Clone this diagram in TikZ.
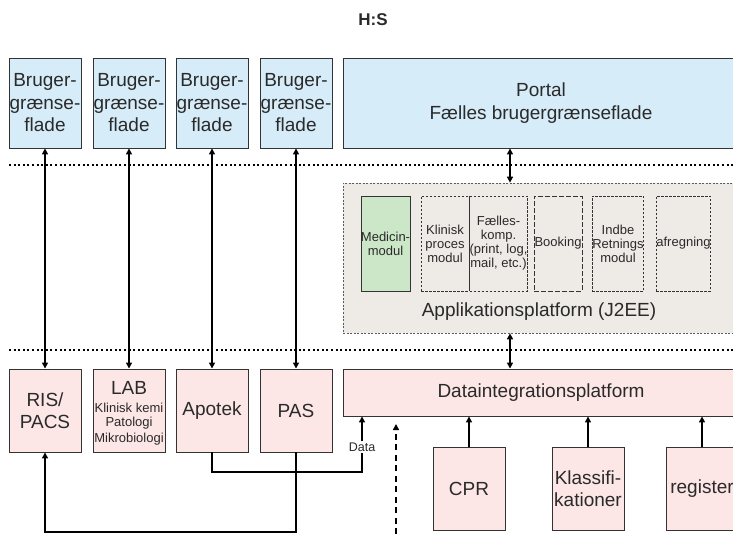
\documentclass[tikz,border=0pt]{standalone}
\usepackage{fontspec}
\setmainfont{Liberation Sans}
\usetikzlibrary{arrows.meta}
\definecolor{bluef}{HTML}{D6ECF8}
\definecolor{pinkf}{HTML}{FCE6E6}
\definecolor{greenf}{HTML}{CCE6C8}
\definecolor{grayf}{HTML}{EEEAE6}
\definecolor{edge}{HTML}{333333}
\definecolor{txt}{HTML}{2A2A2A}
\tikzset{
  big/.style={font=\fontsize{19}{22.5}\selectfont},
  small/.style={font=\fontsize{13}{14}\selectfont},
  lab/.style={font=\fontsize{13}{15.5}\selectfont, text=txt, inner sep=0pt},
  box/.style={draw=edge, line width=0.9pt, inner sep=0pt, align=center, text=txt, big},
  bluebox/.style={box, fill=bluef},
  pinkbox/.style={box, fill=pinkf},
  modbox/.style={draw=edge, line width=0.7pt, dash pattern=on 2.5pt off 1.5pt, inner sep=0pt, align=center, text=txt, small, minimum width=48pt, minimum height=95pt},
  arr/.style={line width=2.2pt, -{Triangle[length=6pt,width=6pt]}},
  darr/.style={line width=2.2pt, {Triangle[length=6pt,width=6pt]}-{Triangle[length=6pt,width=6pt]}},
  sep/.style={line width=2pt, dash pattern=on 2pt off 2.6pt},
}
\begin{document}
\begin{tikzpicture}[x=1pt,y=-1pt]
\useasboundingbox (0,0) rectangle (733,534);
\begin{scope}
\clip (0,0) rectangle (733,534);
% title
\node[font=\fontsize{17}{20}\selectfont\bfseries, text=txt] (hs) at (373,20) {H:S};
% separators
\coordinate (s1a) at (9,165); \coordinate (s1b) at (733,165);
\coordinate (s2a) at (9,350); \coordinate (s2b) at (733,350);
% top boxes
\node[bluebox, minimum width=72pt, minimum height=90pt] (b1) at (45,103) {Bruger-\\grænse-\\flade};
\node[bluebox, minimum width=72pt, minimum height=90pt] (b2) at (129,103) {Bruger-\\grænse-\\flade};
\node[bluebox, minimum width=72pt, minimum height=90pt] (b3) at (212,103) {Bruger-\\grænse-\\flade};
\node[bluebox, minimum width=72pt, minimum height=90pt] (b4) at (296,103) {Bruger-\\grænse-\\flade};
\node[bluebox, minimum width=396pt, minimum height=90pt] (portal) at (541,103) {Portal\\Fælles brugergrænseflade};
% application platform
\node[draw=edge!80, fill=grayf, line width=0.7pt, dash pattern=on 2pt off 1.5pt, minimum width=396pt, minimum height=150pt, inner sep=0pt] (app) at (541,258) {};
\node[big, text=txt] (applbl) at (539,312) {Applikationsplatform (J2EE)};
\node[draw=edge, fill=greenf, line width=0.8pt, inner sep=0pt, align=center, text=txt, small, minimum width=47pt, minimum height=95pt] (m1) at (385.5,243.5) {Medicin-\\modul};
\node[modbox] (m2) at (445,243.5) {Klinisk\\proces\\modul};
\node[modbox] (m3) at (498.5,243.5) {Fælles-\\komp.\\(print, log,\\mail, etc.)};
\node[modbox, dash pattern=on 5pt off 2pt] (m4) at (558,243.5) {Booking};
\node[modbox] (m5) at (618,243.5) {Indbe\\Retnings\\modul};
\node[modbox] (m6) at (683.5,243.5) {afregning};
% lower boxes
\node[pinkbox, minimum width=72pt, minimum height=83pt] (l1) at (45,410.5) {RIS/\\PACS};
\node[pinkbox, minimum width=72pt, minimum height=83pt] (l2) at (129,410.5) {};
\node[big, text=txt, inner sep=0pt] (labt) at (129,388) {LAB};
\node[lab] (lab1) at (129,408) {Klinisk kemi};
\node[lab] (lab2) at (129,423.5) {Patologi};
\node[lab] (lab3) at (129,439) {Mikrobiologi};
\node[pinkbox, minimum width=72pt, minimum height=83pt] (l3) at (212,410.5) {Apotek};
\node[pinkbox, minimum width=72pt, minimum height=83pt] (l4) at (296,410.5) {PAS};
\node[pinkbox, minimum width=396pt, minimum height=47pt] (dip) at (541,392.5) {};
\node[big, text=txt] (diplbl) at (541,393) {Dataintegrationsplatform};
\node[pinkbox, minimum width=72pt, minimum height=83pt] (cpr) at (469,488.5) {CPR};
\node[pinkbox, minimum width=72pt, minimum height=83pt] (kl) at (588,488.5) {Klassifi-\\kationer};
\node[pinkbox, minimum width=72pt, minimum height=83pt] (reg) at (702,488.5) {register};
% separators drawn
\draw[sep] (s1a) -- (s1b);
\draw[sep] (s2a) -- (s2b);
% vertical arrows
\foreach \i in {1,2,3,4} { \draw[darr] (b\i.south) -- (l\i.north); }
\coordinate (ax) at (510,0);
\draw[darr] (portal.south -| ax) -- (app.north -| ax);
\draw[darr] (app.south -| ax) -- (dip.north -| ax);
\draw[arr] (cpr.north) -- (cpr.north |- dip.south);
\draw[arr] (kl.north) -- (kl.north |- dip.south);
\draw[arr] (reg.north) -- (reg.north |- dip.south);
% data connections
\coordinate (dx) at (362,472);
\coordinate (bot) at (0,532);
\draw[arr] (l3.south) -- (l3.south |- dx) -- (dx) -- (dx |- dip.south);
\node[fill=white, inner sep=1.5pt, font=\fontsize{12.5}{14}\selectfont, text=txt] (data) at (362,447) {Data};
\draw[arr] (l4.south) -- (l4.south |- bot) -| (l1.south);
\coordinate (dsh1) at (396,534); \coordinate (dsh2) at (396,424);
\draw[line width=2.2pt, dash pattern=on 6pt off 4.5pt, -{Triangle[length=6pt,width=6pt]}] (dsh1) -- (dsh2);
\end{scope}
\end{tikzpicture}
\end{document}
